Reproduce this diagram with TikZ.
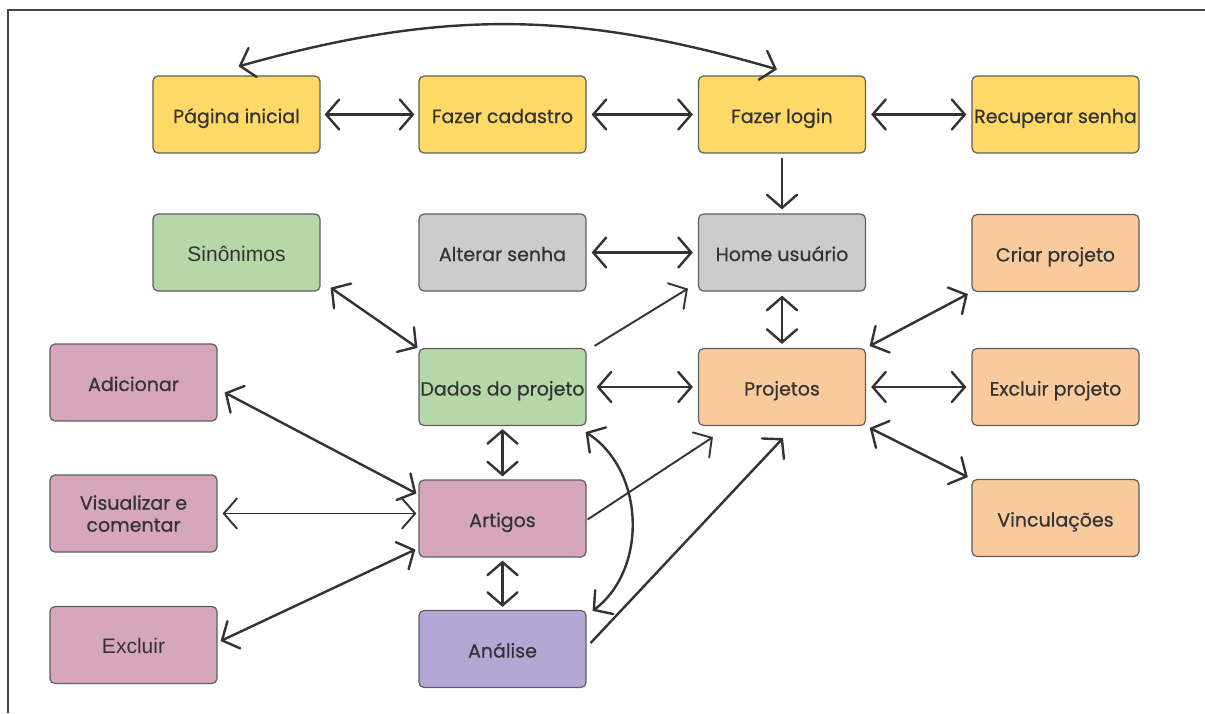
\documentclass[tikz,border=0pt]{standalone}
\usepackage{fontspec}
\setmainfont{Poppins}[FakeBold=0.6]
\newfontfamily\plainsans{Liberation Sans}
\usetikzlibrary{arrows.meta,calc}

\definecolor{boxline}{HTML}{5E5E5E}
\definecolor{arr}{HTML}{333333}
\definecolor{txt}{HTML}{333333}
\definecolor{frame}{HTML}{444444}
\definecolor{cyellow}{HTML}{FFD966}
\definecolor{cgreen}{HTML}{B6D7A8}
\definecolor{cgrey}{HTML}{CCCCCC}
\definecolor{corange}{HTML}{F9CB9C}
\definecolor{cpink}{HTML}{D5A6BD}
\definecolor{cpurple}{HTML}{B4A7D6}

\begin{document}
\begin{tikzpicture}[x=1pt,y=-1pt,
  box/.style={draw=boxline, line width=1.2pt, rounded corners=5pt,
    minimum width=167pt, minimum height=77pt, inner sep=0pt,
    text=txt, align=center, font=\fontsize{19}{22}\selectfont,
    text height=18pt, text depth=1pt},
  twoline/.style={text height=, text depth=},
  helv/.style={font=\plainsans\fontsize{21}{24}\selectfont},
  yel/.style={box, fill=cyellow},
  grn/.style={box, fill=cgreen},
  gry/.style={box, fill=cgrey},
  org/.style={box, fill=corange},
  pnk/.style={box, fill=cpink},
  prp/.style={box, fill=cpurple},
  tip/.tip={Straight Barb[length=13pt,width=30pt,line cap=round]},
  both/.style={draw=arr, line width=2.4pt, tip-tip},
  single/.style={draw=arr, line width=2.4pt, -tip},
  thinner/.style={line width=1.9pt},
  gap/.style={shorten <=#1, shorten >=#1},
]
\useasboundingbox (0,0) rectangle (1205,713);

% outer frame (only top and left edges fall inside the page)
\draw[frame, line width=1.3pt] (8,713) -- (8,10) -- (1205,10);

% row 1
\node[yel] (pag)   at (236.5,114.5) {Página inicial};
\node[yel] (cad)   at (502.5,114.5) {Fazer cadastro};
\node[yel] (login) at (782,114.5)   {Fazer login};
\node[yel] (rec)   at (1055.5,114.5){Recuperar senha};
% row 2
\node[grn, helv] (sin) at (236.5,252.5) {Sinônimos};
\node[gry] (alt)   at (502.5,252.5) {Alterar senha};
\node[gry] (home)  at (782,252.5)   {Home usuário};
\node[org] (criar) at (1055.5,253)  {Criar projeto};
% row 3
\node[pnk] (adic)  at (133.5,382.5) {Adicionar};
\node[grn] (dados) at (502.5,387)   {Dados do projeto};
\node[org] (proj)  at (782,387)     {Projetos};
\node[org] (exclp) at (1055.5,387)  {Excluir projeto};
% row 4
\node[pnk, twoline] (vis) at (133.5,513.5) {Visualizar e\\comentar};
\node[pnk] (art)   at (502.5,518.5) {Artigos};
\node[org] (vinc)  at (1055.5,518)  {Vinculações};
% row 5
\node[pnk, helv] (excl) at (133.5,645) {Excluir};
\node[prp] (ana)   at (502.5,649)   {Análise};

% login flow
\draw[both] ($(pag.north)+(2,-9)$) to[bend left=16] ($(login.north)+(-5,-6)$);
\draw[both, gap=4pt] (pag.east) -- (cad.west);
\draw[both, gap=5pt] (cad.east) -- (login.west);
\draw[both, gap=5pt] (login.east) -- (rec.west);
\draw[single, gap=4pt] (login.south) -- (home.north);

% user home
\draw[both, gap=5pt] (alt.east) -- (home.west);
\draw[both, gap=4pt] (home.south) -- (proj.north);
\draw[single, thinner] ($(dados.north east)+(8,-2)$) -- ($(home.south west)+(-10,-3)$);

% project data
\draw[both] ($(sin.south east)+(10,-4)$) -- ($(dados.north west)+(-1,0)$);
\draw[both, shorten <=10pt, shorten >=5pt] (dados.east) -- (proj.west);
\draw[both, gap=3pt] (dados.south) -- (art.north);
\draw[both] ($(dados.south east)+(-1,6)$) to[bend left=55] ($(ana.north east)+(6,1)$);

% projects
\draw[both, gap=4pt] (proj.north east) -- (criar.south west);
\draw[both, gap=5pt] (proj.east) -- (exclp.west);
\draw[both, gap=4pt] (proj.south east) -- (vinc.north west);

% articles
\draw[both] ($(adic.east)+(7,10)$) -- ($(art.west)+(-2,-25)$);
\draw[both, thinner] ($(vis.east)+(5,0)$) -- ($(vis.east -| art.west)+(-2,0)$);
\draw[both] ($(excl.east)+(3,-4)$) -- ($(art.west)+(-3,31)$);
\draw[both, gap=3pt] (art.south) -- (ana.north);
\draw[single, thinner] ($(art.east)+(1,1)$) -- ($(proj.south west)+(15,11)$);
\draw[single] ($(ana.east)+(4,-6)$) -- ($(proj.south)+(1,12)$);
\end{tikzpicture}
\end{document}
